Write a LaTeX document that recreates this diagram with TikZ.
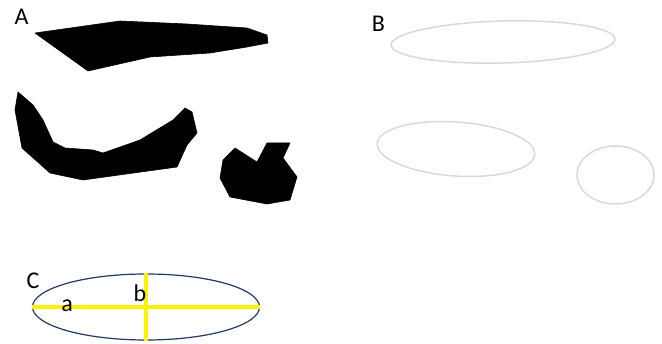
\documentclass[tikz,border=0pt]{standalone}
\usepackage{fontspec}
\setmainfont{Carlito}
\usetikzlibrary{shapes.geometric}
\definecolor{navy}{RGB}{32,56,100}
\definecolor{lightring}{RGB}{217,217,217}
\tikzset{
  letter/.style={inner sep=0pt, font=\fontsize{24}{24}\selectfont},
  blob/.style={fill=black, draw=black, line width=0.6pt, line join=round},
  ring/.style={draw=lightring, line width=1.5pt},
  axisline/.style={draw=yellow, line width=3.5pt},
}
\begin{document}
\begin{tikzpicture}[x=1pt, y=-1pt]
\useasboundingbox (0,0) rectangle (662,344);

% ---- panel A: filled regions ----
\node[letter] (la) at (21.5,17) {A};
\path[blob] (35,33) -- (120,21) -- (187,24) -- (247,28) -- (267,35) -- (268,43)
  -- (247,47) -- (210,53) -- (150,57) -- (88,71) -- cycle;
\path[blob] (18,92) -- (33,105) -- (43,120) -- (53,142) -- (65,148) -- (93,150)
  -- (103,153) -- (140,140) -- (173,120) -- (185,108) -- (192,112) -- (197,133)
  -- (187,145) -- (177,167) -- (83,180) -- (50,173) -- (22,148) -- (15,110) -- cycle;
\path[blob] (235,148) -- (257,162) -- (267,143) -- (290,143) -- (283,158)
  -- (297,177) -- (290,200) -- (267,204) -- (230,197) -- (220,178) -- (223,160) -- cycle;

% ---- panel B: fitted ellipses ----
\node[letter] (lb) at (378.5,24) {B};
\draw[ring, rotate around={1.5:(503,42)}] (503,42) ellipse (112 and 21);
\draw[ring, rotate around={-4:(456,149)}] (456,149) ellipse (79 and 27);
\draw[ring] (615.5,175) ellipse (38.5 and 29);

% ---- panel C: ellipse with its axes ----
\node[letter] (lc) at (33,280.5) {C};
\node[ellipse, draw=navy, line width=1.2pt, minimum width=227pt, minimum height=66pt,
      inner sep=0pt] (e) at (146,307) {};
\draw[axisline] (e.west) -- (e.east);
\draw[axisline] (e.north) -- (e.south);
\node[letter] (a) at (67,306) {a};
\node[letter] (b) at (140,293) {b};
\end{tikzpicture}
\end{document}
